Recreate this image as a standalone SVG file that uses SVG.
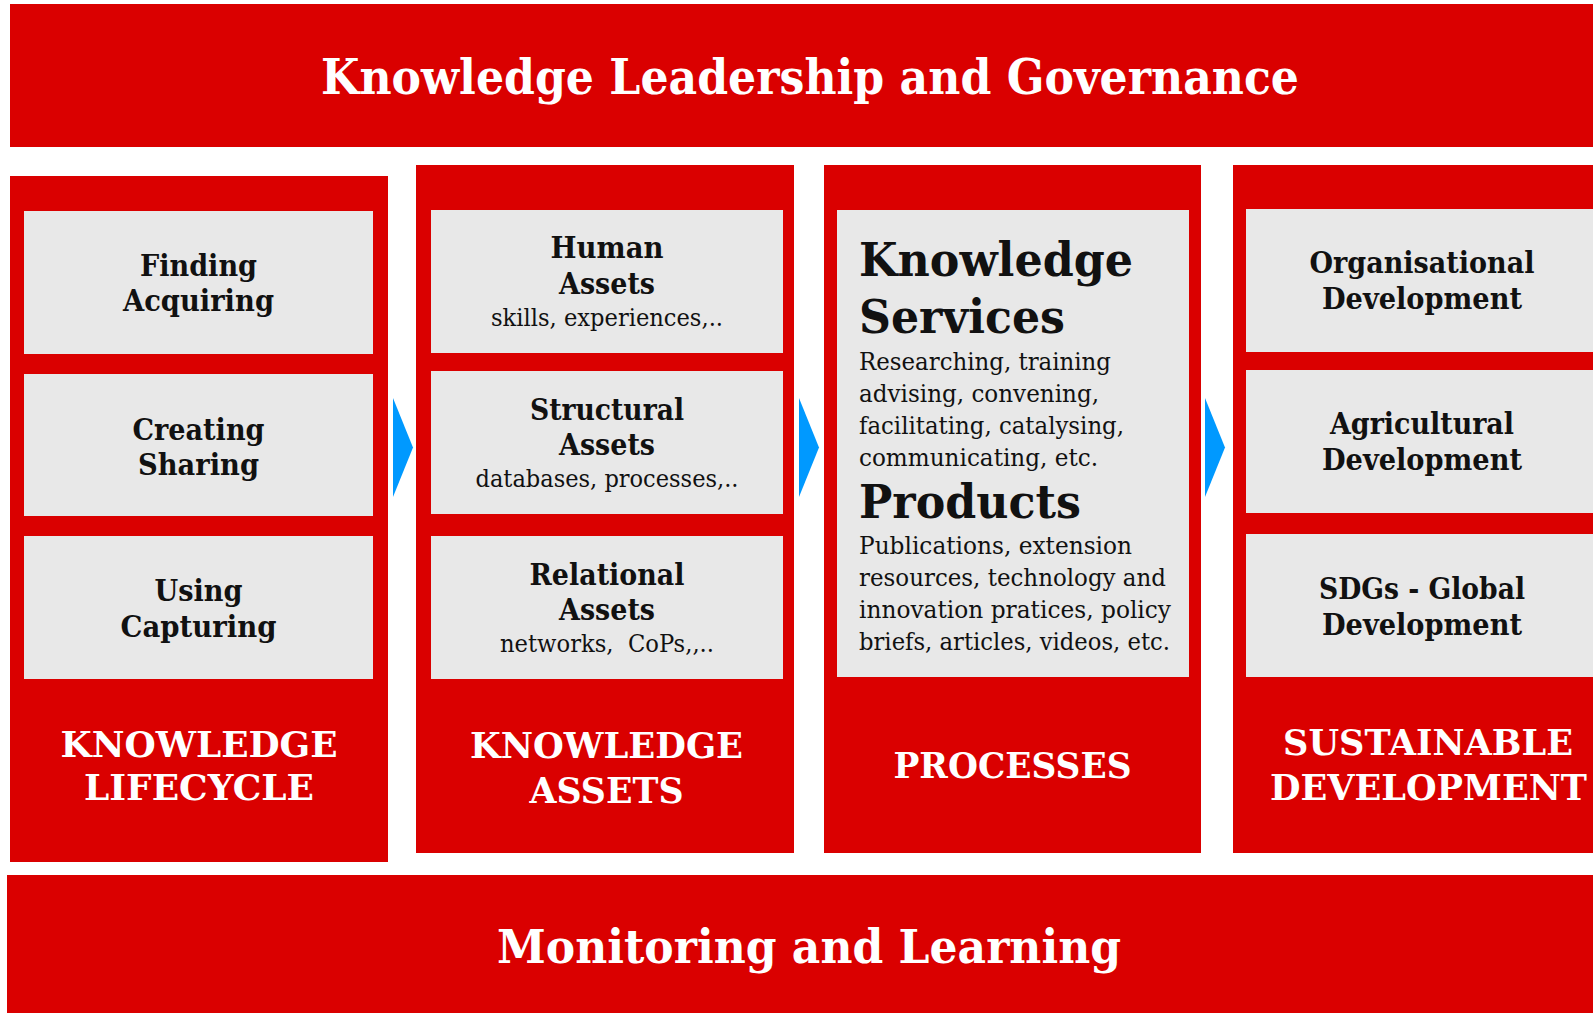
<svg xmlns="http://www.w3.org/2000/svg" width="1593" height="1013" viewBox="0 0 1593 1013">
  <style>
    .band { fill: #DA0000; }
    .card { fill: #E8E8E8; }
    .arrow { fill: #0099FF; }
    text { font-family: "DejaVu Serif", serif; }
    .banner { fill: #FFFFFF; font-weight: bold; text-anchor: middle; }
    .label { fill: #FFFFFF; font-weight: bold; font-size: 35px; text-anchor: middle; }
    .item { fill: #111111; font-weight: bold; font-size: 29px; text-anchor: middle; }
    .sub { fill: #111111; font-size: 24px; text-anchor: middle; }
    .head { fill: #111111; font-weight: bold; font-size: 47px; }
    .body { fill: #111111; font-size: 24px; }
  </style>

  <rect width="1593" height="1013" fill="#FFFFFF"/>

  <!-- Top banner -->
  <g id="governance">
    <rect class="band" x="10" y="4" width="1583" height="143"/>
    <text class="banner" x="810" y="94" font-size="49" textLength="978" lengthAdjust="spacingAndGlyphs">Knowledge Leadership and Governance</text>
  </g>

  <!-- Column 1: lifecycle -->
  <g id="lifecycle">
    <rect class="band" x="10" y="176" width="378" height="686"/>
    <rect class="card" x="24" y="211" width="349" height="143"/>
    <rect class="card" x="24" y="374" width="349" height="142"/>
    <rect class="card" x="24" y="536" width="349" height="143"/>
    <text class="item" x="198.5" y="276" textLength="117" lengthAdjust="spacingAndGlyphs">Finding</text>
    <text class="item" x="198.5" y="311" textLength="151" lengthAdjust="spacingAndGlyphs">Acquiring</text>
    <text class="item" x="198.5" y="440" textLength="132" lengthAdjust="spacingAndGlyphs">Creating</text>
    <text class="item" x="198.5" y="475" textLength="121" lengthAdjust="spacingAndGlyphs">Sharing</text>
    <text class="item" x="198.5" y="601" textLength="88" lengthAdjust="spacingAndGlyphs">Using</text>
    <text class="item" x="198.5" y="637" textLength="156" lengthAdjust="spacingAndGlyphs">Capturing</text>
    <text class="label" x="199" y="757" textLength="277" lengthAdjust="spacingAndGlyphs">KNOWLEDGE</text>
    <text class="label" x="199" y="800" textLength="230" lengthAdjust="spacingAndGlyphs">LIFECYCLE</text>
  </g>

  <!-- Column 2: assets -->
  <g id="assets">
    <rect class="band" x="416" y="165" width="378" height="688"/>
    <rect class="card" x="431" y="210" width="352" height="143"/>
    <rect class="card" x="431" y="371" width="352" height="143"/>
    <rect class="card" x="431" y="536" width="352" height="143"/>
    <text class="item" x="607" y="258" textLength="113" lengthAdjust="spacingAndGlyphs">Human</text>
    <text class="item" x="607" y="294" textLength="96" lengthAdjust="spacingAndGlyphs">Assets</text>
    <text class="sub" x="607" y="326" textLength="232" lengthAdjust="spacingAndGlyphs">skills, experiences,..</text>
    <text class="item" x="607" y="420" textLength="154" lengthAdjust="spacingAndGlyphs">Structural</text>
    <text class="item" x="607" y="455" textLength="96" lengthAdjust="spacingAndGlyphs">Assets</text>
    <text class="sub" x="607" y="487" textLength="263" lengthAdjust="spacingAndGlyphs">databases, processes,..</text>
    <text class="item" x="607" y="585" textLength="155" lengthAdjust="spacingAndGlyphs">Relational</text>
    <text class="item" x="607" y="620" textLength="96" lengthAdjust="spacingAndGlyphs">Assets</text>
    <text class="sub" x="607" y="652" textLength="214" lengthAdjust="spacingAndGlyphs" xml:space="preserve">networks,  CoPs,,..</text>
    <text class="label" x="606.5" y="758" textLength="273" lengthAdjust="spacingAndGlyphs">KNOWLEDGE</text>
    <text class="label" x="606.5" y="803" textLength="154" lengthAdjust="spacingAndGlyphs">ASSETS</text>
  </g>

  <!-- Column 3: processes -->
  <g id="processes">
    <rect class="band" x="824" y="165" width="377" height="688"/>
    <rect class="card" x="837" y="210" width="352" height="467"/>
    <text class="head" x="859" y="276" textLength="274" lengthAdjust="spacingAndGlyphs">Knowledge</text>
    <text class="head" x="859" y="333" textLength="206" lengthAdjust="spacingAndGlyphs">Services</text>
    <text class="body" x="859" y="370" textLength="252" lengthAdjust="spacingAndGlyphs">Researching, training</text>
    <text class="body" x="859" y="402" textLength="240" lengthAdjust="spacingAndGlyphs">advising, convening,</text>
    <text class="body" x="859" y="434" textLength="265" lengthAdjust="spacingAndGlyphs">facilitating, catalysing,</text>
    <text class="body" x="859" y="466" textLength="239" lengthAdjust="spacingAndGlyphs">communicating, etc.</text>
    <text class="head" x="859" y="518" textLength="222" lengthAdjust="spacingAndGlyphs">Products</text>
    <text class="body" x="859" y="554" textLength="273" lengthAdjust="spacingAndGlyphs">Publications, extension</text>
    <text class="body" x="859" y="586" textLength="307" lengthAdjust="spacingAndGlyphs">resources, technology and</text>
    <text class="body" x="859" y="618" textLength="312" lengthAdjust="spacingAndGlyphs">innovation pratices, policy</text>
    <text class="body" x="859" y="650" textLength="311" lengthAdjust="spacingAndGlyphs">briefs, articles, videos, etc.</text>
    <text class="label" x="1012.5" y="778" textLength="238" lengthAdjust="spacingAndGlyphs">PROCESSES</text>
  </g>

  <!-- Column 4: sustainable development -->
  <g id="development">
    <rect class="band" x="1233" y="165" width="360" height="688"/>
    <rect class="card" x="1246" y="209" width="347" height="143"/>
    <rect class="card" x="1246" y="370" width="347" height="143"/>
    <rect class="card" x="1246" y="534" width="347" height="143"/>
    <text class="item" x="1422" y="273" textLength="225" lengthAdjust="spacingAndGlyphs">Organisational</text>
    <text class="item" x="1422" y="309" textLength="200" lengthAdjust="spacingAndGlyphs">Development</text>
    <text class="item" x="1422" y="434" textLength="184" lengthAdjust="spacingAndGlyphs">Agricultural</text>
    <text class="item" x="1422" y="470" textLength="200" lengthAdjust="spacingAndGlyphs">Development</text>
    <text class="item" x="1422" y="599" textLength="206" lengthAdjust="spacingAndGlyphs">SDGs - Global</text>
    <text class="item" x="1422" y="635" textLength="200" lengthAdjust="spacingAndGlyphs">Development</text>
    <text class="label" x="1428" y="755" textLength="290" lengthAdjust="spacingAndGlyphs">SUSTAINABLE</text>
    <text class="label" x="1428.5" y="800" textLength="317" lengthAdjust="spacingAndGlyphs">DEVELOPMENT</text>
  </g>

  <!-- Bottom banner -->
  <g id="monitoring">
    <rect class="band" x="7" y="875" width="1586" height="138"/>
    <text class="banner" x="809" y="963" font-size="46" textLength="624" lengthAdjust="spacingAndGlyphs">Monitoring and Learning</text>
  </g>

  <!-- Flow arrows between columns -->
  <g id="connectors">
    <polygon class="arrow" points="393,398 413,447.5 393,497"/>
    <polygon class="arrow" points="799,398 819,447.5 799,497"/>
    <polygon class="arrow" points="1205,398 1225,447.5 1205,497"/>
  </g>
</svg>
